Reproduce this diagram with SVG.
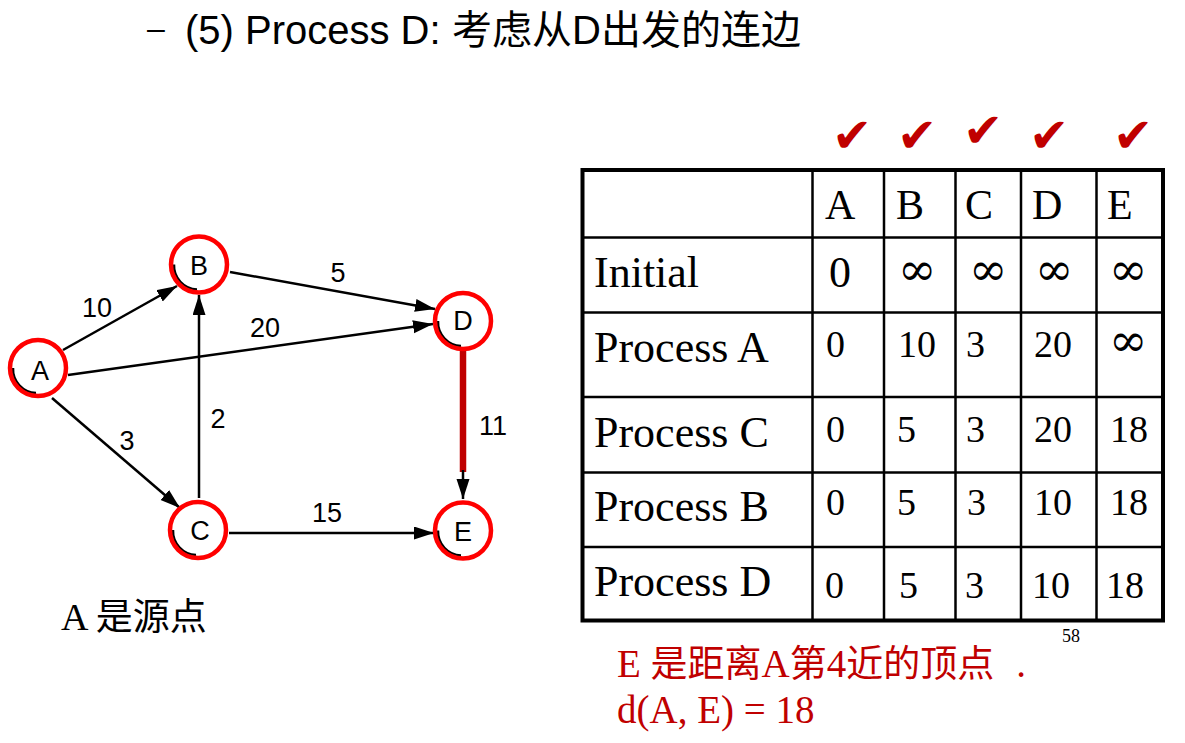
<svg xmlns="http://www.w3.org/2000/svg" width="1185" height="743" viewBox="0 0 1185 743">
<defs>
<marker id="arr" markerUnits="userSpaceOnUse" markerWidth="20" markerHeight="14" refX="20" refY="6.5" orient="auto">
<path d="M0,0 L20,6.5 L0,13 Z" fill="#000"/>
</marker>
</defs>
<style>
.edge{stroke:#000;stroke-width:2.5;fill:none}
.ringin{fill:none;stroke:#f00;stroke-width:4.5}
.shade{fill:none;stroke:#000;stroke-width:2.5}
.nl{font-family:"Liberation Sans",Arial,sans-serif;font-size:27px;fill:#000;text-anchor:middle}
.el{font-family:"Liberation Sans",Arial,sans-serif;font-size:27px;fill:#000;text-anchor:middle}
.tt{font-family:"Liberation Serif","Noto Sans CJK SC",serif;fill:#000}
.lab{font-size:44px}
.hd{font-size:42px}
.num{font-size:38px}
.inf{font-family:"DejaVu Serif",serif;font-size:46px}
.grid{stroke:#000;stroke-width:2.5}
.chk{font-family:"DejaVu Sans",sans-serif;font-size:48px;fill:#c00000}
.red{font-family:"Liberation Serif","Noto Sans CJK SC",serif;font-size:39px;fill:#c00000}
.cjk{font-family:"Noto Sans CJK SC",sans-serif}
</style>

<g id="title">
<text x="147" y="44" font-family="Liberation Sans,Arial,sans-serif" font-size="40" fill="#000"><tspan font-size="32" dy="-5">–</tspan><tspan x="185" dy="5">(5) Process D:</tspan><tspan x="452" font-family="Noto Sans CJK SC,sans-serif">考虑从</tspan><tspan>D</tspan><tspan font-family="Noto Sans CJK SC,sans-serif">出发的连边</tspan></text>
</g>

<g id="connectors">
<line class="edge" x1="63" y1="350" x2="177" y2="286" marker-end="url(#arr)"/>
<line class="edge" x1="230" y1="272" x2="435" y2="309" marker-end="url(#arr)"/>
<line class="edge" x1="68" y1="375" x2="433" y2="324" marker-end="url(#arr)"/>
<line class="edge" x1="52" y1="398" x2="180" y2="508" marker-end="url(#arr)"/>
<line class="edge" x1="199" y1="498" x2="199" y2="295" marker-end="url(#arr)"/>
<line class="edge" x1="229" y1="533" x2="434" y2="533" marker-end="url(#arr)"/>
<line x1="463" y1="351" x2="463" y2="472" stroke="#c00000" stroke-width="6.5"/>
<line class="edge" x1="463" y1="470" x2="463" y2="499" marker-end="url(#arr)"/>
<text class="el" x="97" y="317">10</text>
<text class="el" x="338" y="282">5</text>
<text class="el" x="265" y="337">20</text>
<text class="el" x="127" y="450">3</text>
<text class="el" x="218" y="428">2</text>
<text class="el" x="493" y="435">11</text>
<text class="el" x="327" y="522">15</text>
</g>

<g id="node-A">
<circle cx="38" cy="368" r="28" fill="#fff"/>
<path class="shade" d="M36,393 A24,24 0 0 1 13,368"/>
<circle class="ringin" cx="38" cy="368" r="28"/>
<text class="nl" x="40" y="380">A</text>
</g>
<g id="node-B">
<circle cx="199" cy="264.5" r="28" fill="#fff"/>
<path class="shade" d="M197,289.5 A24,24 0 0 1 174,264.5"/>
<circle class="ringin" cx="199" cy="264.5" r="28"/>
<text class="nl" x="199" y="275">B</text>
</g>
<g id="node-D">
<circle cx="463" cy="321" r="28" fill="#fff"/>
<path class="shade" d="M461,346 A24,24 0 0 1 438,321"/>
<circle class="ringin" cx="463" cy="321" r="28"/>
<text class="nl" x="463" y="330">D</text>
</g>
<g id="node-C">
<circle cx="198" cy="530" r="28" fill="#fff"/>
<path class="shade" d="M196,555 A24,24 0 0 1 173,530"/>
<circle class="ringin" cx="198" cy="530" r="28"/>
<text class="nl" x="200" y="540">C</text>
</g>
<g id="node-E">
<circle cx="463" cy="530.5" r="28" fill="#fff"/>
<path class="shade" d="M461,555.5 A24,24 0 0 1 438,530.5"/>
<circle class="ringin" cx="463" cy="530.5" r="28"/>
<text class="nl" x="463" y="541">E</text>
</g>

<g id="source-note">
<text x="61" y="630" font-family="Liberation Serif,Noto Sans CJK SC,serif" font-size="38" fill="#000">A <tspan font-family="Noto Sans CJK SC,sans-serif" font-size="37">是源点</tspan></text>
</g>

<g id="checks">
<text class="chk" x="832" y="152">✔</text>
<text class="chk" x="897" y="152">✔</text>
<text class="chk" x="963" y="147">✔</text>
<text class="chk" x="1029" y="152">✔</text>
<text class="chk" x="1113" y="152">✔</text>
</g>

<g id="table">
<rect x="582.5" y="170" width="580.5" height="450.5" fill="none" stroke="#000" stroke-width="4"/>
<line class="grid" x1="812.5" y1="170" x2="812.5" y2="620"/>
<line class="grid" x1="884" y1="170" x2="884" y2="620"/>
<line class="grid" x1="955.5" y1="170" x2="955.5" y2="620"/>
<line class="grid" x1="1021" y1="170" x2="1021" y2="620"/>
<line class="grid" x1="1096.5" y1="170" x2="1096.5" y2="620"/>
<line class="grid" x1="582" y1="237.5" x2="1163" y2="237.5"/>
<line class="grid" x1="582" y1="312.5" x2="1163" y2="312.5"/>
<line class="grid" x1="582" y1="397" x2="1163" y2="397"/>
<line class="grid" x1="582" y1="472.5" x2="1163" y2="472.5"/>
<line class="grid" x1="582" y1="547" x2="1163" y2="547"/>

<g class="tt hd">
<text x="825" y="219">A</text>
<text x="896" y="219">B</text>
<text x="965" y="219">C</text>
<text x="1032" y="219">D</text>
<text x="1107" y="219">E</text>
</g>
<g class="tt lab">
<text x="594" y="287">Initial</text>
<text x="594" y="362">Process A</text>
<text x="594" y="447">Process C</text>
<text x="594" y="521">Process B</text>
<text x="594" y="596">Process D</text>
</g>
<text class="tt lab" x="829" y="287">0</text>
<g class="inf">
<text x="898" y="285">∞</text>
<text x="969" y="285">∞</text>
<text x="1035" y="285">∞</text>
<text x="1109" y="285">∞</text>
<text x="1109" y="356">∞</text>
</g>
<g class="tt num">
<text x="826" y="357">0</text>
<text x="898" y="357">10</text>
<text x="966" y="357">3</text>
<text x="1034" y="357">20</text>

<text x="826" y="442">0</text>
<text x="897" y="442">5</text>
<text x="966" y="442">3</text>
<text x="1034" y="442">20</text>
<text x="1110" y="442">18</text>

<text x="826" y="515">0</text>
<text x="897" y="515">5</text>
<text x="967" y="515">3</text>
<text x="1034" y="515">10</text>
<text x="1110" y="515">18</text>

<text x="825" y="598">0</text>
<text x="899" y="598">5</text>
<text x="965" y="598">3</text>
<text x="1032" y="598">10</text>
<text x="1106" y="598">18</text>
</g>
<text x="1062" y="642" font-family="Liberation Serif,serif" font-size="18" fill="#000">58</text>
</g>

<g id="result-note">
<text class="red" x="617" y="677">E <tspan class="cjk" font-size="37">是距离</tspan>A<tspan class="cjk" font-size="37">第</tspan>4<tspan class="cjk" font-size="37">近的顶点</tspan><tspan dx="22">.</tspan></text>
<text class="red" x="617" y="723">d(A, E) = 18</text>
</g>
</svg>
